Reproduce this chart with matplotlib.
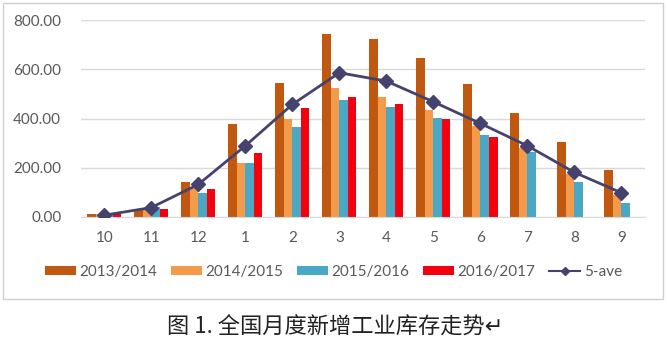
import numpy as np
import matplotlib
matplotlib.use("Agg")
import matplotlib.pyplot as plt
from matplotlib.patches import Rectangle
from matplotlib.lines import Line2D

plt.rcParams['font.family'] = ['Lato', 'DejaVu Sans']

months = ['10', '11', '12', '1', '2', '3', '4', '5', '6', '7', '8', '9']
s1314 = [10, 34, 142, 377, 545, 742, 725, 644, 542, 423, 305, 189]
s1415 = [10, 30, 122, 221, 397, 522, 486, 434, 369, 281, 174, 88]
s1516 = [14, 40, 98, 221, 366, 475, 447, 404, 332, 264, 142, 57]
s1617 = [16, 34, 113, 260, 441, 488, 458, 397, 323, np.nan, np.nan, np.nan]
ave5 = [7, 38, 132, 289, 457, 586, 552, 468, 380, 289, 181, 98]

series = [
    ('2013/2014', s1314, '#C0590F'),
    ('2014/2015', s1415, '#F39A4B'),
    ('2015/2016', s1516, '#4AA8C4'),
    ('2016/2017', s1617, '#F5000F'),
]
line_col = '#46426E'

fig = plt.figure(figsize=(6.67, 3.46), dpi=100)
ax = fig.add_axes([0.121, 0.373, 0.846, 0.569])

x = np.arange(len(months))
w = 0.182
handles = []
for i, (name, vals, col) in enumerate(series):
    b = ax.bar(x + (i - 1.5) * w, vals, width=w, color=col, label=name, zorder=2)
    handles.append(b)

ax.plot(x, ave5, color=line_col, lw=2, marker='D', markersize=7, zorder=3)
# smaller marker for the legend entry
handles.append(Line2D([], [], color=line_col, lw=1.5, marker='D', markersize=4,
                      label='5-ave'))

ax.set_xlim(-0.5, len(months) - 0.5)
ax.set_ylim(0, 800)
ax.set_yticks([0, 200, 400, 600, 800])
ax.yaxis.set_major_formatter(matplotlib.ticker.FormatStrFormatter('%.2f'))
ax.set_xticks(x)
ax.set_xticklabels(months)
ax.tick_params(axis='both', length=0, labelsize=11, colors='#595959')
ax.tick_params(axis='x', pad=10)
ax.tick_params(axis='y', pad=14)
ax.grid(axis='y', color='#D9D9D9', lw=1, zorder=0)
for side in ['top', 'right', 'left']:
    ax.spines[side].set_visible(False)
ax.spines['bottom'].set_color('#D9D9D9')

fig.legend(handles=handles, loc='center', bbox_to_anchor=(0.5, 1 - 272 / 346),
           ncol=5, frameon=False, fontsize=11, handlelength=2.0, handleheight=0.5,
           handletextpad=0.25, columnspacing=0.9, labelcolor='#595959')

# outer chart frame
fig.patches.append(Rectangle((3 / 667, 1 - 299 / 346), 660 / 667, 296 / 346,
                             transform=fig.transFigure, fill=False,
                             edgecolor='#D0D0D0', lw=1))

fig.text(0.502, 1 - 327 / 346, '图 1. 全国月度新增工业库存走势↵', ha='center', va='center',
         fontsize=16, color='#222222',
         family=['Noto Sans CJK SC', 'DejaVu Sans'])

fig.savefig('out.png', dpi=100)
